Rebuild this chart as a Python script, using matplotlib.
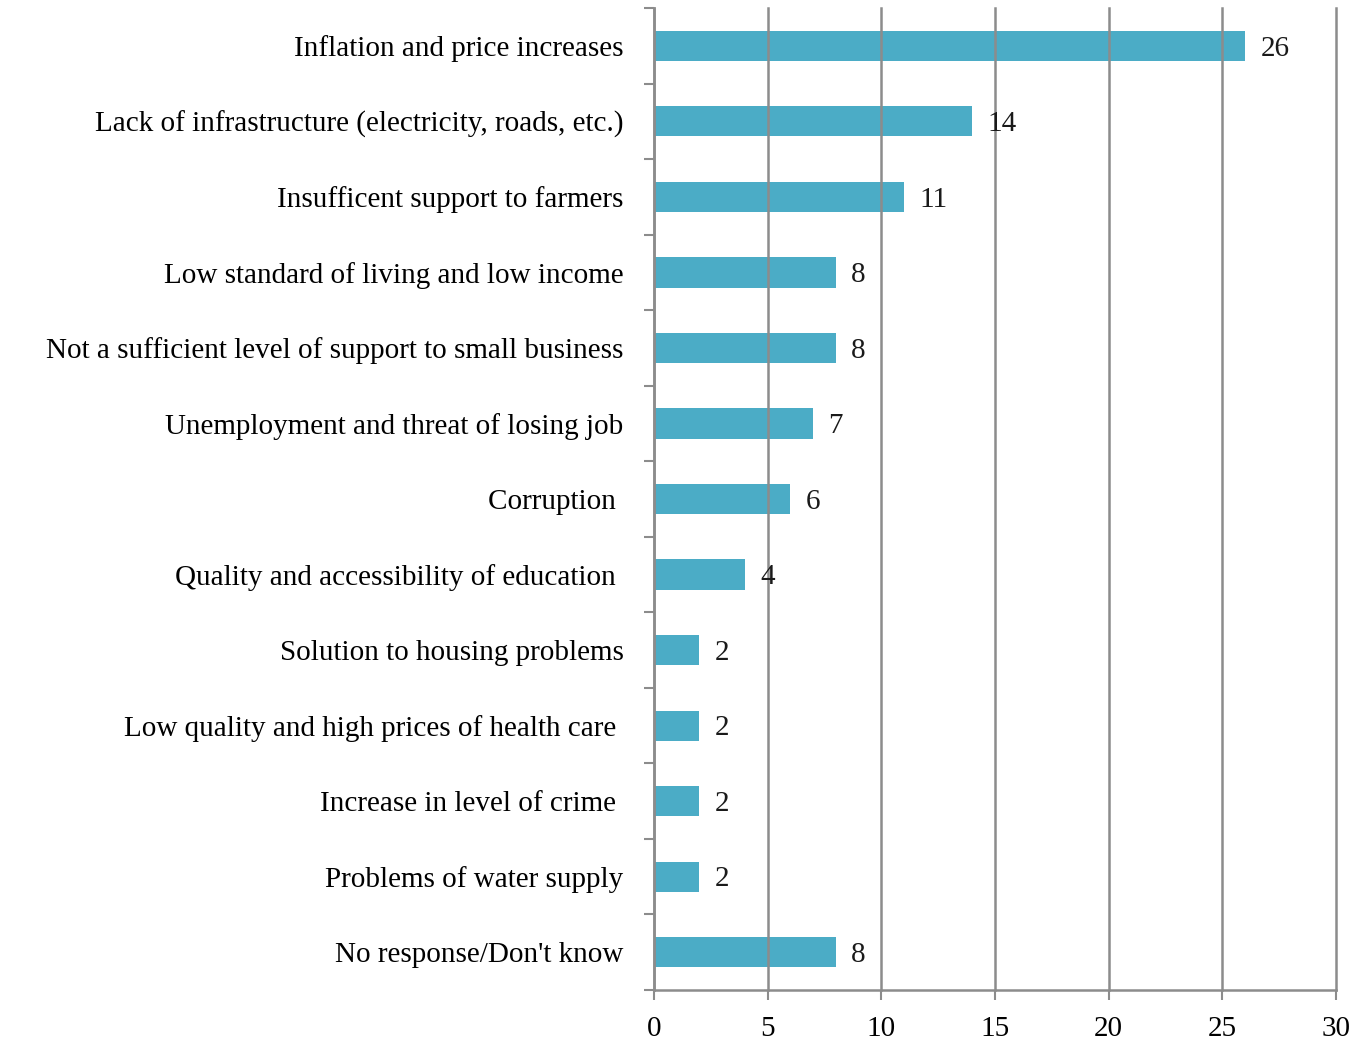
import matplotlib.pyplot as plt
import numpy as np

categories = [
    "Inflation and price increases",
    "Lack of infrastructure (electricity, roads, etc.)",
    "Insufficent support to farmers",
    "Low standard of living and low income",
    "Not a sufficient level of support to small business",
    "Unemployment and threat of losing job",
    "Corruption ",
    "Quality and accessibility of education ",
    "Solution to housing problems",
    "Low quality and high prices of health care ",
    "Increase in level of crime ",
    "Problems of water supply",
    "No response/Don't know",
]
values = [26, 14, 11, 8, 8, 7, 6, 4, 2, 2, 2, 2, 8]
xticks = [0, 5, 10, 15, 20, 25, 30]

bar_color = "#4BACC6"
grid_color = "#8c8c8c"
fs = 21

plt.rcParams['font.family'] = ['Liberation Serif', 'DejaVu Serif']

fig = plt.figure(figsize=(13.56, 10.42), dpi=100)
ax = fig.add_axes([0.4823, 0.0499, 0.5030, 0.9424])

y = np.arange(len(categories))
ax.barh(y, values, height=0.4, color=bar_color, zorder=1)

for yi, v in zip(y, values):
    ax.annotate(str(v), (v, yi), xytext=(11, -2), textcoords="offset points",
                va="center", ha="left", fontsize=fs, color="#1a1a1a")

ax.set_xlim(0, 30)
ax.set_ylim(len(categories) - 0.5, -0.5)
ax.set_xticks(xticks)
ax.set_xticklabels([str(t) for t in xticks], fontsize=fs)

ax.set_yticks(y)
ax.set_yticklabels(categories, fontsize=fs)
ax.set_yticks(np.arange(-0.5, len(categories) + 0.5, 1), minor=True)
ax.tick_params(axis="y", which="major", length=0, pad=22)
ax.tick_params(axis="y", which="minor", length=7, width=1.5, color=grid_color)
ax.tick_params(axis="x", length=7, width=1.5, color=grid_color, pad=12)

ax.grid(axis="x", color=grid_color, linewidth=1.8, zorder=2)
for gl in ax.get_xgridlines():
    gl.set_clip_on(False)
ax.set_axisbelow(False)

for s in ["top", "right"]:
    ax.spines[s].set_visible(False)
for s in ["left", "bottom"]:
    ax.spines[s].set_color(grid_color)
    ax.spines[s].set_linewidth(1.8)

fig.savefig("out.png", dpi=100)
